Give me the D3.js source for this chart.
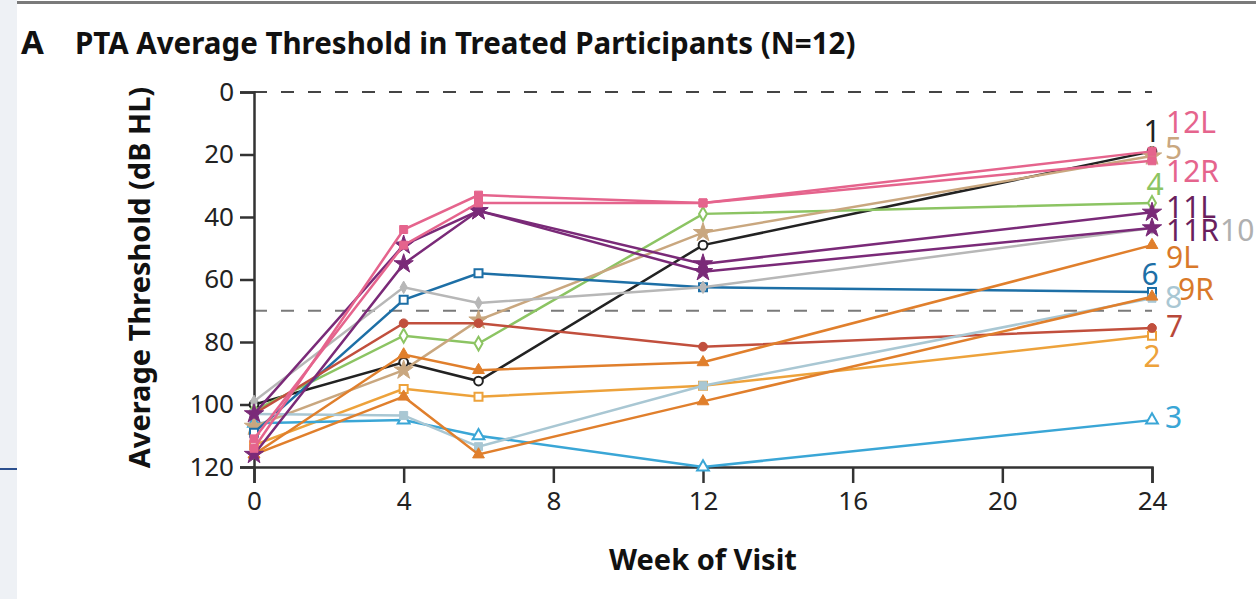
<!DOCTYPE html>
<html>
<head>
<meta charset="utf-8">
<script src="https://cdn.jsdelivr.net/npm/d3@7"></script>
<style>
  body { margin: 0; background: #fff; }
  svg { display: block; font-family: "Noto Sans", sans-serif; }
</style>
</head>
<body>
<svg id="chart" width="1256" height="599"></svg>
<script>
// weeks of visit and participant thresholds (dB HL)
var weeks = [0, 4, 6, 12, 24];
var xTicks = [0, 4, 8, 12, 16, 20, 24];
var yTicks = [0, 20, 40, 60, 80, 100, 120];
var refLines = [0, 70];

var names = ["1", "2", "3", "4", "5", "6", "7", "8", "9L", "9R", "10", "11L", "11R", "12L", "12R"];
var p1   = [100, 86.5, 92.5, 49, 19];
var p2   = [113, 95, 97.5, 94, 78];
var p3   = [106, 105, 110, 120, 105];
var p4   = [102, 78, 80.5, 39, 35.5];
var p5   = [107, 89, 73, 45, 20.5];
var p6   = [109, 66.5, 58, 62.5, 64];
var p7   = [103, 74, 74, 81.5, 75.5];
var p8   = [103, 103.5, 113.5, 94, 66];
var p9L  = [116, 84, 89, 86.5, 49];
var p9R  = [116, 97.5, 116, 99, 65.5];
var p10  = [99, 62.5, 67.5, 62.5, 43.5];
var p11L = [103, 49, 38, 55, 38.5];
var p11R = [116, 55, 38, 57.5, 43.5];
var p12L = [114, 44, 33, 35.5, 19];
var p12R = [111, 49, 35.5, 35.5, 22];
var values = [p1, p2, p3, p4, p5, p6, p7, p8, p9L, p9R, p10, p11L, p11R, p12L, p12R];

var colors = ["#222222", "#eda23b", "#3aa6d6", "#8cc463", "#c9a77f", "#1d6fa6", "#c14f3d",
              "#a9c7d3", "#e07f2c", "#e07f2c", "#b7b7b7", "#7a2a78", "#7a2a78", "#e5648d", "#e5648d"];
var labelColors = ["#222222", "#eda23b", "#3aa6d6", "#8cc463", "#c9a77f", "#1d6fa6", "#b8483a",
              "#a9c7d3", "#d9792a", "#d9792a", "#b0b0b0", "#6a1f5e", "#6a1f5e", "#e5648d", "#e5648d"];
var markers = ["circle", "square", "triangle", "diamond", "star", "square", "circle",
               "square", "triangle", "triangle", "diamond", "star", "star", "square", "square"];
var filled  = [false, false, false, false, true, false, true,
               true, true, true, true, true, true, true, true];

// label placement relative to last point: [dx, dy, anchor]
var labelPos = {
  "1": [0, -9, "middle"], "2": [0, 31, "middle"], "3": [13, 8, "start"], "4": [3, -8, "middle"],
  "5": [13, 3, "start"], "6": [-2, -7, "middle"], "7": [14, 9, "start"], "8": [13, 10, "start"],
  "9L": [14, 23, "start"], "9R": [26, 3, "start"], "10": [68, 13, "start"], "11L": [14, 6, "start"],
  "11R": [14, 13, "start"], "12L": [14, -18, "start"], "12R": [14, 21, "start"]
};

var svg = d3.select("#chart");

// page decoration from the source screenshot
svg.append("rect").attr("x", 0).attr("y", 0).attr("width", 17).attr("height", 599).attr("fill", "#eef1f5");
svg.append("rect").attr("x", 0).attr("y", 468).attr("width", 17).attr("height", 2).attr("fill", "#2b4f8e");
svg.append("rect").attr("x", 17).attr("y", 1).attr("width", 1239).attr("height", 3).attr("fill", "#7a7a7a");

var x = d3.scaleLinear().domain([0, 24]).range([254, 1152]);
var y = d3.scaleLinear().domain([0, 120]).range([92, 467]);

// title
svg.append("text").attr("x", 21).attr("y", 54).attr("font-size", 33).attr("font-weight", 700)
  .attr("fill", "#111").text("A");
svg.append("text").attr("x", 75).attr("y", 54).attr("font-size", 29.5).attr("font-weight", 700)
  .attr("fill", "#111").text("PTA Average Threshold in Treated Participants (N=12)");

// reference lines
svg.selectAll(".ref").data(refLines).enter().append("line")
  .attr("x1", x(0)).attr("x2", x(24))
  .attr("y1", d => y(d)).attr("y2", d => y(d))
  .attr("stroke", (d, i) => i == 0 ? "#444" : "#7a7a7a")
  .attr("stroke-width", 2)
  .attr("stroke-dasharray", "13,14");

// axes
var yAxis = svg.append("g").attr("transform", "translate(" + x(0) + ",0)")
  .call(d3.axisLeft(y).tickValues(yTicks).tickSize(14).tickPadding(6));
var xAxis = svg.append("g").attr("transform", "translate(0," + y(120) + ")")
  .call(d3.axisBottom(x).tickValues(xTicks).tickSize(16).tickPadding(9));
[xAxis, yAxis].forEach(function (g) {
  g.select(".domain").attr("stroke", "#333").attr("stroke-width", 2.5);
  g.selectAll(".tick line").attr("stroke", "#333").attr("stroke-width", 2.5);
  g.selectAll(".tick text").attr("fill", "#222").attr("font-size", 26)
    .attr("font-family", "Noto Sans, sans-serif");
});

svg.append("text")
  .attr("transform", "translate(150," + (y(60) - 2) + ") rotate(-90)")
  .attr("text-anchor", "middle").attr("font-size", 29).attr("font-weight", 700)
  .attr("fill", "#111").text("Average Threshold (dB HL)");
svg.append("text").attr("x", x(12)).attr("y", 570).attr("text-anchor", "middle")
  .attr("font-size", 29).attr("font-weight", 700).attr("fill", "#111").text("Week of Visit");

// series
var line = d3.line().x((d, i) => x(weeks[i])).y(d => y(d));
var symbolType = {
  circle: d3.symbolCircle, square: d3.symbolSquare, triangle: d3.symbolTriangle,
  diamond: d3.symbolDiamond, star: d3.symbolStar
};
var symbolSize = { circle: 60, square: 64, triangle: 60, diamond: 45, star: 115 };

var series = svg.selectAll(".series").data(values).enter().append("g").attr("class", "series");

series.append("path")
  .attr("d", d => line(d))
  .attr("fill", "none")
  .attr("stroke", (d, i) => colors[i])
  .attr("stroke-width", 2.5);

series.each(function (vals, i) {
  var m = markers[i];
  d3.select(this).selectAll("path.mk").data(vals).enter().append("path")
    .attr("class", "mk")
    .attr("transform", (d, j) => "translate(" + x(weeks[j]) + "," + y(d) + ")")
    .attr("d", d3.symbol().type(symbolType[m]).size(m == "diamond" && !filled[i] ? 55 : symbolSize[m]))
    .attr("fill", filled[i] ? colors[i] : "#fff")
    .attr("stroke", colors[i])
    .attr("stroke-width", filled[i] ? 1 : 2);
});

// end labels
series.append("text")
  .attr("x", (d, i) => x(24) + labelPos[names[i]][0])
  .attr("y", (d, i) => y(d[d.length - 1]) + labelPos[names[i]][1])
  .attr("text-anchor", (d, i) => labelPos[names[i]][2])
  .attr("font-size", 30)
  .attr("fill", (d, i) => labelColors[i])
  .text((d, i) => names[i]);
</script>
</body>
</html>
